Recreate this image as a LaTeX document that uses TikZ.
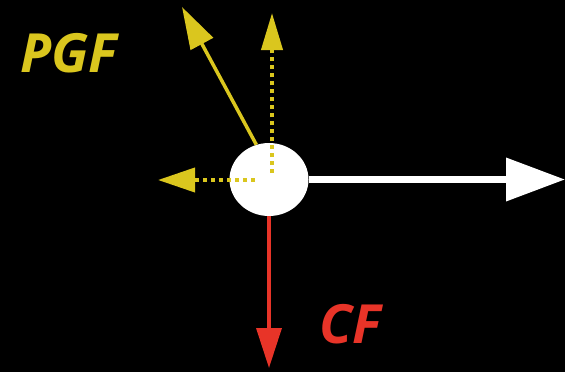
\documentclass[tikz,border=0pt]{standalone}
\usepackage{fontspec}
\newfontfamily\forcefont{Open Sans}
\usepackage{xcolor}
\usetikzlibrary{arrows.meta,positioning,shapes.geometric}
\definecolor{pgfyellow}{RGB}{218,198,30}
\definecolor{cfred}{RGB}{232,52,40}

\begin{document}
\begin{tikzpicture}[
  x=1pt, y=-1pt,
  parcel/.style={ellipse, fill=white, minimum width=79pt, minimum height=73pt, inner sep=0pt},
  force/.style={line width=3.5pt},
  component/.style={line width=4pt, pgfyellow, dash pattern=on 4pt off 4pt},
  flabel/.style={anchor=base west, inner sep=0pt, font=\forcefont\bfseries\itshape\fontsize{54}{60}\selectfont}
]
\fill[black] (0,0) rectangle (565,372);
\useasboundingbox (0,0) rectangle (565,372);
\node[parcel] (parcel) at (269,179.5) {};
\coordinate (netend) at (565,179.5);
\coordinate (cfend) at (269,368);
\coordinate (pgfend) at (182,7);
\coordinate (upstart) at (272,173);
\coordinate (upend) at (272,13);
\coordinate (leftstart) at (255,180);
\coordinate (leftend) at (158,180);
\node[flabel, text=pgfyellow] (pgf) at (20,72) {PGF};
\node[flabel, text=cfred] (cf) at (319,343) {CF};
\draw[white, line width=7pt, -{Triangle[length=59pt, width=42pt]}] (parcel.east) -- (netend);
\draw[force, cfred, -{Triangle[length=40pt, width=25pt]}] (parcel.south) -- (cfend);
\draw[force, pgfyellow, -{Triangle[length=42pt, width=25pt]}] (parcel.110) -- (pgfend);
\draw[component, -{Triangle[length=37pt, width=21pt]}] (upstart) -- (upend);
\draw[component, -{Triangle[length=37pt, width=24pt]}] (leftstart) -- (leftend);
\end{tikzpicture}
\end{document}
